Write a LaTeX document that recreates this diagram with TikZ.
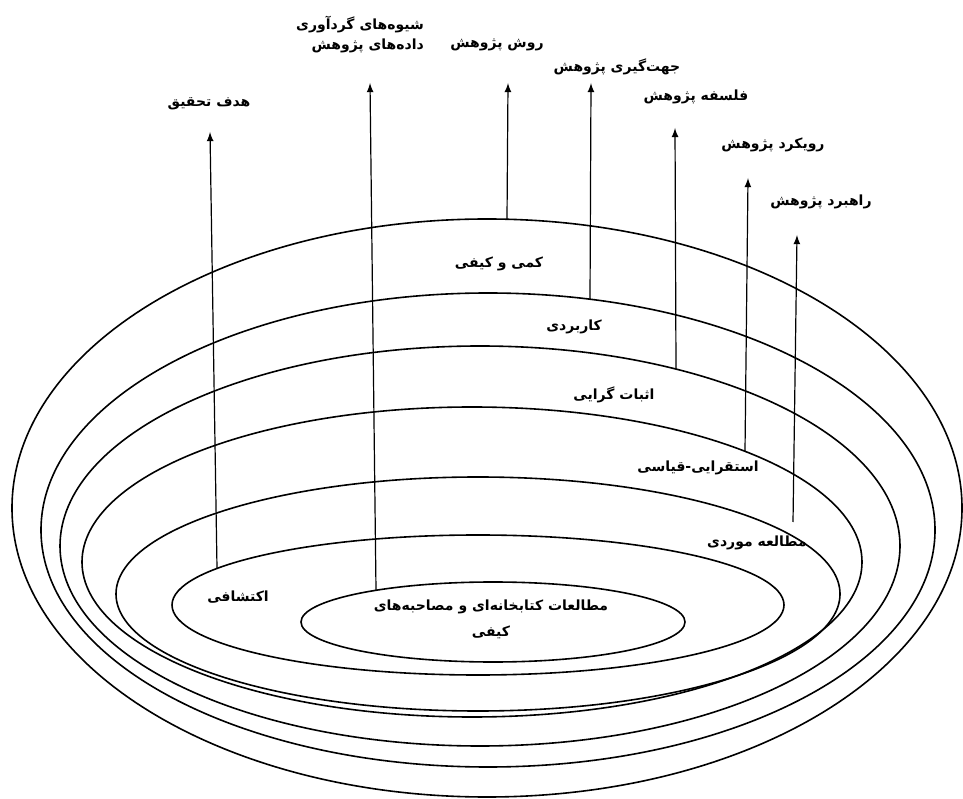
\documentclass[tikz,border=0pt]{standalone}
\usepackage{fontspec}
\newfontfamily\fa[Script=Arabic]{DejaVu Sans}
\TeXXeTstate=1
\newcommand{\fatext}[1]{\beginR #1\endR}
\begin{document}
\begin{tikzpicture}[x=0.5pt, y=0.5pt, every node/.style={font=\fa\bfseries\fontsize{7}{10}\selectfont, inner sep=1pt}]
    \useasboundingbox (0,0) rectangle (963,798);
    \draw[thick] (487,290) ellipse [x radius=475, y radius=289];
    \draw[thick] (488,268) ellipse [x radius=447, y radius=237];
    \draw[thick] (480,252) ellipse [x radius=420, y radius=200];
    \draw[thick] (472,236) ellipse [x radius=390, y radius=155];
    \draw[thick] (478,204) ellipse [x radius=362, y radius=117];
    \draw[thick] (478,193) ellipse [x radius=306, y radius=70];
    \draw[thick] (493,176) ellipse [x radius=192, y radius=40];
    \node (goal) at (209,694) {\fatext{هدف تحقیق}};
    \node[align=right] (methods) at (360,763) {\fatext{شیوه‌های گردآوری}\\\fatext{داده‌های پژوهش}};
    \node (method) at (497,753) {\fatext{روش پژوهش}};
    \node (orient) at (617,731) {\fatext{جهت‌گیری پژوهش}};
    \node (philo) at (696,701) {\fatext{فلسفه پژوهش}};
    \node (approach) at (773,653) {\fatext{رویکرد پژوهش}};
    \node (strategy) at (821,596) {\fatext{راهبرد پژوهش}};
    \node (mixed) at (499,534) {\fatext{کمی و کیفی}};
    \node (applied) at (574,471) {\fatext{کاربردی}};
    \node (positiv) at (614,403) {\fatext{اثبات گرایی}};
    \node (induct) at (698,330) {\fatext{استقرایی-قیاسی}};
    \node (casestudy) at (757,255) {\fatext{مطالعه موردی}};
    \node (explor) at (238,201) {\fatext{اکتشافی}};
    \node[align=center] (library) at (491,179) {\fatext{مطالعات کتابخانه‌ای و مصاحبه‌های}\\[3pt]\fatext{کیفی}};
    \coordinate (goalfoot) at (217,230); \coordinate (goaltip) at (210,666);
    \coordinate (methodsfoot) at (376,208); \coordinate (methodstip) at (370,715);
    \coordinate (methodfoot) at (507,579); \coordinate (methodtip) at (508,715);
    \coordinate (orientfoot) at (590,499); \coordinate (orienttip) at (591,715);
    \coordinate (philofoot) at (676,429); \coordinate (philotip) at (675,670);
    \coordinate (approachfoot) at (745,347); \coordinate (approachtip) at (748,620);
    \coordinate (strategyfoot) at (793,276); \coordinate (strategytip) at (797,563);
    \foreach \n in {goal,methods,method,orient,philo,approach,strategy}
        \draw[semithick, -latex] (\n foot) -- (\n tip);
\end{tikzpicture}
\end{document}
